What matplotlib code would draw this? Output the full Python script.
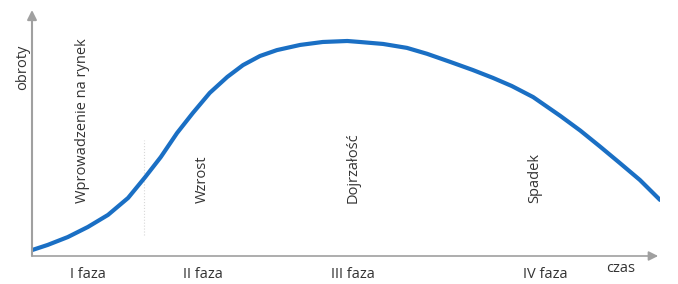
import matplotlib
matplotlib.use("Agg")
import matplotlib.pyplot as plt

plt.rcParams['font.family'] = ['Open Sans', 'DejaVu Sans']

# czas (0-100) i obroty (0-100)
czas = [0, 2.5, 5.7, 8.9, 12.1, 15.3, 18.0, 20.5, 23.1, 25.6, 28.3, 31.1,
        33.6, 36.3, 39.0, 42.7, 46.3, 50.2, 52.2, 55.9, 59.7, 62.9, 66.6,
        70.2, 73.4, 76.4, 79.8, 84.1, 87.3, 90.4, 93.6, 96.8, 100]
obroty = [2.4, 4.5, 7.7, 11.8, 16.7, 23.6, 32.0, 40.2, 50.0, 58.1, 66.3, 72.8,
          77.6, 81.3, 83.7, 85.8, 87.0, 87.4, 87.0, 86.2, 84.6, 82.2, 78.9,
          75.6, 72.4, 69.1, 64.6, 57.0, 51.0, 44.6, 37.8, 30.9, 22.8]

fazy = ['I faza', 'II faza', 'III faza', 'IV faza']
fazy_x = [8.9, 27.2, 51.1, 81.7]
etapy = ['Wprowadzenie na rynek', 'Wzrost', 'Dojrzałość', 'Spadek']
etapy_x = [8.1, 27.1, 51.1, 80.1]

txt = '#333333'
fs = 10.5
fig = plt.figure(figsize=(6.78, 2.84), dpi=100)
ax = fig.add_axes([32 / 678, 28 / 284, 628 / 678, 246 / 284])
ax.set_xlim(0, 100)
ax.set_ylim(0, 100)
ax.axis('off')

# osie ze strzałkami
ax.annotate('', xy=(0, 1.0), xytext=(0, 0), xycoords='axes fraction',
            arrowprops=dict(arrowstyle='-|>', color='#a0a0a0', lw=1.5,
                            mutation_scale=14, shrinkA=0, shrinkB=0))
ax.annotate('', xy=(0.997, 0), xytext=(0, 0), xycoords='axes fraction',
            arrowprops=dict(arrowstyle='-|>', color='#a0a0a0', lw=1.2,
                            mutation_scale=14, shrinkA=0, shrinkB=0))

# delikatna kropkowana linia
ax.plot([17.8, 17.8], [8.5, 47], color='#d8d8d8', lw=0.8, ls=':')

ax.plot(czas, obroty, color='#1a6fc4', lw=3, solid_capstyle='round',
        solid_joinstyle='round')

for x, s in zip(etapy_x, etapy):
    ax.text(x, 21.5, s, rotation=90, ha='center', va='bottom', fontsize=fs, color=txt)

for x, s in zip(fazy_x, fazy):
    ax.text(x, -7.7, s, ha='center', va='center', fontsize=fs, color=txt, clip_on=False)

ax.text(93.8, -4.9, 'czas', ha='center', va='center', fontsize=fs, color=txt, clip_on=False)
ax.text(-1.5, 76.8, 'obroty', rotation=90, ha='center', va='center', fontsize=fs,
        color=txt, clip_on=False)

fig.savefig('out.png', dpi=100)
